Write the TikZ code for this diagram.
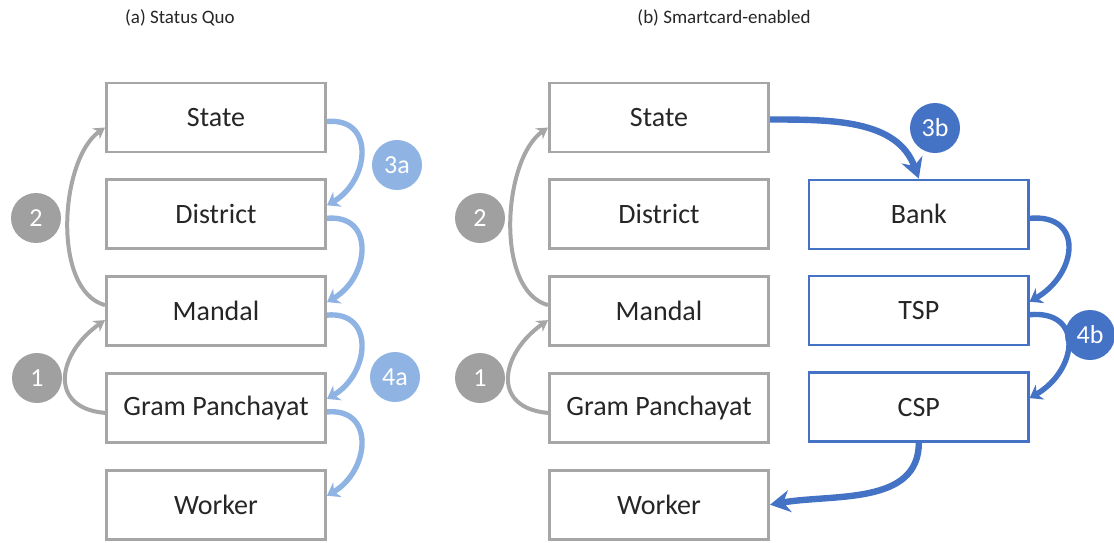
\documentclass[tikz,border=0pt]{standalone}
\usepackage{fontspec}
\setmainfont{Carlito}
\usetikzlibrary{arrows.meta,positioning,calc}

\definecolor{boxgray}{HTML}{A6A6A6}
\definecolor{numgray}{HTML}{A0A0A0}
\definecolor{lightblue}{HTML}{8FB4E3}
\definecolor{darkblue}{HTML}{4472C4}

\begin{document}
\begin{tikzpicture}[
  x=0.5pt, y=0.5pt,
  box/.style={draw=boxgray, line width=1.4pt, fill=white, minimum width=109.6pt, minimum height=34.5pt, font=\fontsize{14}{16}\selectfont, text=black!85},
  bankbox/.style={box, draw=darkblue, line width=1.2pt},
  num/.style={circle, minimum size=25pt, inner sep=0pt, text=white, font=\fontsize{13}{15}\selectfont},
  ttl/.style={font=\fontsize{9.5}{11}\selectfont, text=black!85},
  grayarr/.style={-{Stealth[length=5.5pt, width=6.5pt]}, line width=2pt, boxgray},
  flowarr/.style={-{Stealth[length=6pt, width=8.5pt]}, line width=2.7pt},
  bigarr/.style={-{Stealth[length=10pt, width=11pt]}, line width=3.2pt, darkblue},
  node distance=12.5pt and 19pt,
]
  \useasboundingbox (0,0) rectangle (1114,-542);

  % Titles
  \node[ttl] (titleA) at (180,-18) {(a) Status Quo};
  \node[ttl] (titleB) at (724,-18) {(b) Smartcard-enabled};

  % (a) status quo column
  \node[box] (stateA) at (216,-117.5) {State};
  \node[box, below=of stateA] (distA) {District};
  \node[box, below=of distA] (mandA) {Mandal};
  \node[box, below=of mandA] (gpA) {Gram Panchayat};
  \node[box, below=of gpA] (workA) {Worker};

  % (b) smartcard column
  \node[box] (stateB) at (659,-117.5) {State};
  \node[box, below=of stateB] (distB) {District};
  \node[box, below=of distB] (mandB) {Mandal};
  \node[box, below=of mandB] (gpB) {Gram Panchayat};
  \node[box, below=of gpB] (workB) {Worker};

  % payment chain
  \node[bankbox, right=of distB] (bank) {Bank};
  \node[bankbox, below=of bank] (tsp) {TSP};
  \node[bankbox, below=of tsp] (csp) {CSP};

  % Step numbers
  \node[num, fill=numgray] (twoA) at (36,-218) {2};
  \node[num, fill=numgray] (oneA) at (37,-378) {1};
  \node[num, fill=lightblue] (threeA) at (397,-165) {3a};
  \node[num, fill=lightblue] (fourA) at (395,-377) {4a};
  \node[num, fill=numgray] (twoB) at (480,-218) {2};
  \node[num, fill=numgray] (oneB) at (480,-378) {1};
  \node[num, fill=darkblue] (threeB) at (935,-128) {3b};
  \node[num, fill=darkblue] (fourB) at (1090,-335) {4b};

  % Reporting upwards
  \draw[grayarr] ([yshift=3pt]mandA.west) to[out=165, in=215, looseness=0.8] ([yshift=-5pt]stateA.west);
  \draw[grayarr] ([yshift=-2.5pt]gpA.west) to[out=175, in=215, looseness=1.6] ([yshift=-4.5pt]mandA.west);
  \draw[grayarr] ([yshift=3pt]mandB.west) to[out=165, in=215, looseness=0.8] ([yshift=-5pt]stateB.west);
  \draw[grayarr] ([yshift=-2.5pt]gpB.west) to[out=175, in=215, looseness=1.6] ([yshift=-4.5pt]mandB.west);

  % Funds down the hierarchy
  \draw[flowarr, lightblue] ([yshift=-2pt]stateA.east) to[out=5, in=30, looseness=1.5] ([yshift=4.5pt]distA.east);
  \draw[flowarr, lightblue] ([yshift=-2pt]distA.east) to[out=5, in=30, looseness=1.5] ([yshift=4.5pt]mandA.east);
  \draw[flowarr, lightblue] ([yshift=-2pt]mandA.east) to[out=5, in=30, looseness=1.5] ([yshift=4.5pt]gpA.east);
  \draw[flowarr, lightblue] ([yshift=-2pt]gpA.east) to[out=5, in=30, looseness=1.5] ([yshift=4.5pt]workA.east);

  % Funds through the bank
  \draw[bigarr] ([yshift=-1pt]stateB.east) to[out=0, in=110] (bank.north);
  \draw[flowarr, darkblue] ([yshift=-2pt]bank.east) to[out=5, in=30, looseness=1.7] ([yshift=4.5pt]tsp.east);
  \draw[flowarr, darkblue] ([yshift=-2pt]tsp.east) to[out=5, in=30, looseness=1.7] ([yshift=4.5pt]csp.east);
  \draw[bigarr] (csp.south) to[out=-90, in=10] (workB.east);
\end{tikzpicture}
\end{document}
